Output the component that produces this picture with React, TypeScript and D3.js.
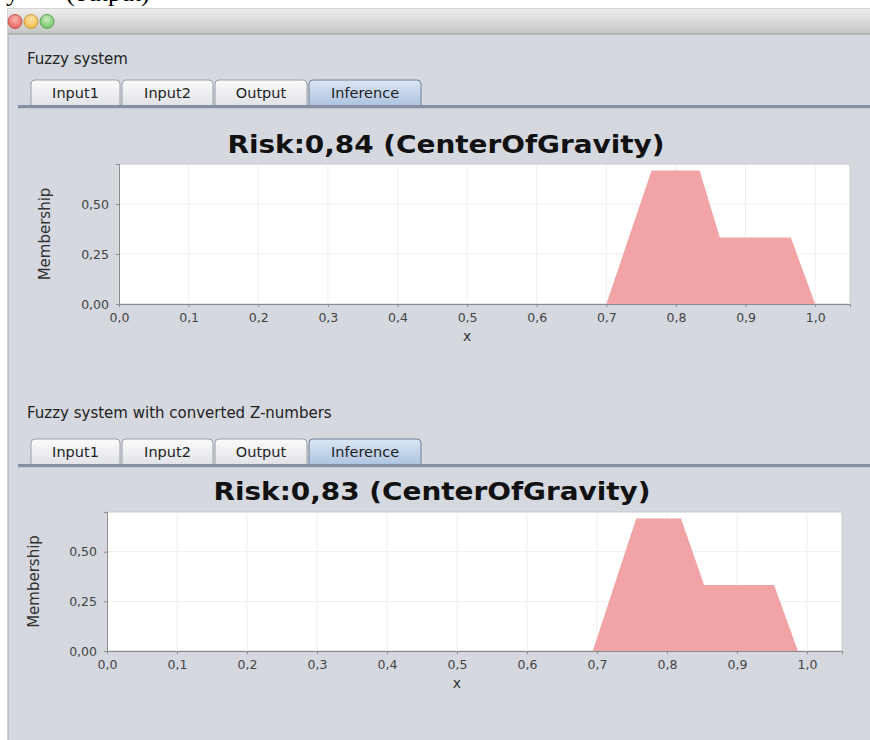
import * as d3 from "d3";
import { useEffect, useRef } from "react";

// membership curves of the aggregated output (x, membership)
const riskX1 = [0.7, 0.765, 0.834, 0.863, 0.965, 1.0];
const riskY1 = [0, 0.667, 0.667, 0.333, 0.333, 0];
const riskX2 = [0.694, 0.756, 0.82, 0.853, 0.953, 0.987];
const riskY2 = [0, 0.667, 0.667, 0.333, 0.333, 0];

const xTickValues = [0, 0.1, 0.2, 0.3, 0.4, 0.5, 0.6, 0.7, 0.8, 0.9, 1.0];
const yTickValues = [0, 0.25, 0.5];
const tabNames = ["Input1", "Input2", "Output", "Inference"];
const tabEdges = [30, 121, 214, 308, 422];

const panels = [
  {
    label: "Fuzzy system",
    title: "Risk:0,84 (CenterOfGravity)",
    xs: riskX1,
    ys: riskY1,
    labelY: 64,
    tabTop: 80,
    titleX: 446,
    titleY: 153,
    plot: { left: 119, right: 850, top: 164, bottom: 304 },
    yLabelX: 50,
  },
  {
    label: "Fuzzy system with converted Z-numbers",
    title: "Risk:0,83 (CenterOfGravity)",
    xs: riskX2,
    ys: riskY2,
    labelY: 418,
    tabTop: 439,
    titleX: 432,
    titleY: 500,
    plot: { left: 107, right: 842, top: 512, bottom: 651 },
    yLabelX: 39,
  },
];

const FONT = "'DejaVu Sans', Verdana, sans-serif";

export default function App() {
  const svgRef = useRef<SVGSVGElement>(null);

  useEffect(() => {
    const svg = d3.select(svgRef.current);
    svg.selectAll("*").remove();

    const defs = svg.append("defs");
    const lin = (id: string, a: string, b: string) => {
      const lg = defs.append("linearGradient").attr("id", id).attr("x1", 0).attr("x2", 0).attr("y1", 0).attr("y2", 1);
      lg.append("stop").attr("offset", "0%").attr("stop-color", a);
      lg.append("stop").attr("offset", "100%").attr("stop-color", b);
    };
    lin("titlebar", "#ededed", "#c4c4c4");
    lin("tab", "#fbfbfb", "#e1e3e7");
    lin("tabsel", "#dbe6f3", "#aec5e1");

    const lights = [
      { id: "red", hi: "#fbb4b0", c: "#e5615b", s: "#b8473f" },
      { id: "yel", hi: "#fde3a6", c: "#eeb945", s: "#bf8c2e" },
      { id: "grn", hi: "#c8ecc0", c: "#72c266", s: "#4b9442" },
    ];
    lights.forEach((l) => {
      const rg = defs.append("radialGradient").attr("id", l.id).attr("cx", "50%").attr("cy", "35%").attr("r", "65%");
      rg.append("stop").attr("offset", "0%").attr("stop-color", l.hi);
      rg.append("stop").attr("offset", "100%").attr("stop-color", l.c);
    });

    // page white + fragment of the document text above the window
    svg.append("rect").attr("width", 870).attr("height", 740).attr("fill", "#ffffff");
    svg.append("text").attr("x", 6).attr("y", 1).attr("font-family", "'Liberation Serif', serif").attr("font-size", 26).text("y");
    svg.append("text").attr("x", 66).attr("y", 1).attr("font-family", "'Liberation Serif', serif").attr("font-size", 26).text("(output)");

    // window
    svg.append("rect").attr("x", 8).attr("y", 9).attr("width", 870).attr("height", 740).attr("fill", "#d5d8df").attr("stroke", "#a8a8a8");
    svg.append("rect").attr("x", 8).attr("y", 9).attr("width", 870).attr("height", 25).attr("fill", "url(#titlebar)");
    svg.append("line").attr("x1", 8).attr("x2", 870).attr("y1", 34).attr("y2", 34).attr("stroke", "#9a9a9a");
    lights.forEach((l, i) => {
      svg.append("circle").attr("cx", 15 + i * 16).attr("cy", 21.5).attr("r", 7).attr("fill", `url(#${l.id})`).attr("stroke", l.s).attr("stroke-width", 0.8);
    });

    panels.forEach((p) => {
      const g = svg.append("g");
      g.append("text").attr("x", 27).attr("y", p.labelY).attr("font-family", FONT).attr("font-size", 15).attr("fill", "#222").text(p.label);

      // tabs
      const tabTop = p.tabTop;
      const tabH = 25;
      tabNames.forEach((t, i) => {
        const sel = i === tabNames.length - 1;
        const x0 = tabEdges[i];
        const x1 = tabEdges[i + 1];
        g.append("path")
          .attr("d", `M${x0 + 1},${tabTop + tabH} V${tabTop + 4} Q${x0 + 1},${tabTop} ${x0 + 5},${tabTop} H${x1 - 5} Q${x1 - 1},${tabTop} ${x1 - 1},${tabTop + 4} V${tabTop + tabH}`)
          .attr("fill", sel ? "url(#tabsel)" : "url(#tab)")
          .attr("stroke", sel ? "#6f7f95" : "#9a9ea6");
        g.append("text")
          .attr("x", (x0 + x1) / 2)
          .attr("y", tabTop + 18)
          .attr("text-anchor", "middle")
          .attr("font-family", FONT)
          .attr("font-size", 14.5)
          .attr("fill", "#1e1e1e")
          .text(t);
      });
      g.append("rect").attr("x", 18).attr("y", tabTop + tabH).attr("width", 852).attr("height", 3).attr("fill", "#8591a3");
      g.append("line").attr("x1", 18).attr("x2", 870).attr("y1", tabTop + tabH + 3.5).attr("y2", tabTop + tabH + 3.5).attr("stroke", "#c4cad4");

      const { left, right, top, bottom } = p.plot;
      const x = d3.scaleLinear().domain([0, 1.05]).range([left, right]);
      const y = d3.scaleLinear().domain([0, 0.7]).range([bottom, top]);

      g.append("text")
        .attr("x", p.titleX)
        .attr("y", p.titleY)
        .attr("text-anchor", "middle")
        .attr("font-family", FONT)
        .attr("font-weight", "bold")
        .attr("font-size", 24)
        .attr("textLength", 437)
        .attr("lengthAdjust", "spacingAndGlyphs")
        .attr("fill", "#111")
        .text(p.title);

      g.append("rect").attr("x", left).attr("y", top).attr("width", right - left).attr("height", bottom - top).attr("fill", "#ffffff").attr("stroke", "#c8c8c8");

      g.selectAll(".vgrid").data(xTickValues).enter().append("line")
        .attr("x1", (d) => x(d)).attr("x2", (d) => x(d)).attr("y1", top).attr("y2", bottom)
        .attr("stroke", "#eeeeee");
      g.selectAll(".hgrid").data(yTickValues).enter().append("line")
        .attr("x1", left).attr("x2", right).attr("y1", (d) => y(d)).attr("y2", (d) => y(d))
        .attr("stroke", "#eeeeee");

      const area = d3.area<number>()
        .x((_, i) => x(p.xs[i]))
        .y0(y(0))
        .y1((d) => y(d));
      g.append("path").datum(p.ys).attr("d", area).attr("fill", "#f1a3a5");

      const xAxis = g.append("g").attr("transform", `translate(0,${bottom})`)
        .call(d3.axisBottom(x).tickValues(xTickValues).tickSize(3).tickPadding(6).tickFormat((d) => d3.format(".1f")(d as number).replace(".", ",")));
      const yAxis = g.append("g").attr("transform", `translate(${left},0)`)
        .call(d3.axisLeft(y).tickValues(yTickValues).tickSize(3).tickPadding(7).tickFormat((d) => d3.format(".2f")(d as number).replace(".", ",")));
      [xAxis, yAxis].forEach((a) => {
        a.select(".domain").attr("stroke", "#8a8a8a");
        a.selectAll(".tick line").attr("stroke", "#8a8a8a");
        a.selectAll("text").attr("fill", "#444").attr("font-family", FONT).attr("font-size", 12.5);
      });

      g.append("text")
        .attr("x", x(0.5))
        .attr("y", bottom + 37)
        .attr("text-anchor", "middle")
        .attr("font-family", FONT)
        .attr("font-size", 14)
        .attr("fill", "#333")
        .text("x");
      g.append("text")
        .attr("transform", `translate(${p.yLabelX},${(top + bottom) / 2}) rotate(-90)`)
        .attr("text-anchor", "middle")
        .attr("font-family", FONT)
        .attr("font-size", 15)
        .attr("fill", "#333")
        .text("Membership");
    });
  }, []);

  return (
    <svg ref={svgRef} width={870} height={740} style={{ position: "absolute", left: 0, top: 0, display: "block" }}></svg>
  );
}
